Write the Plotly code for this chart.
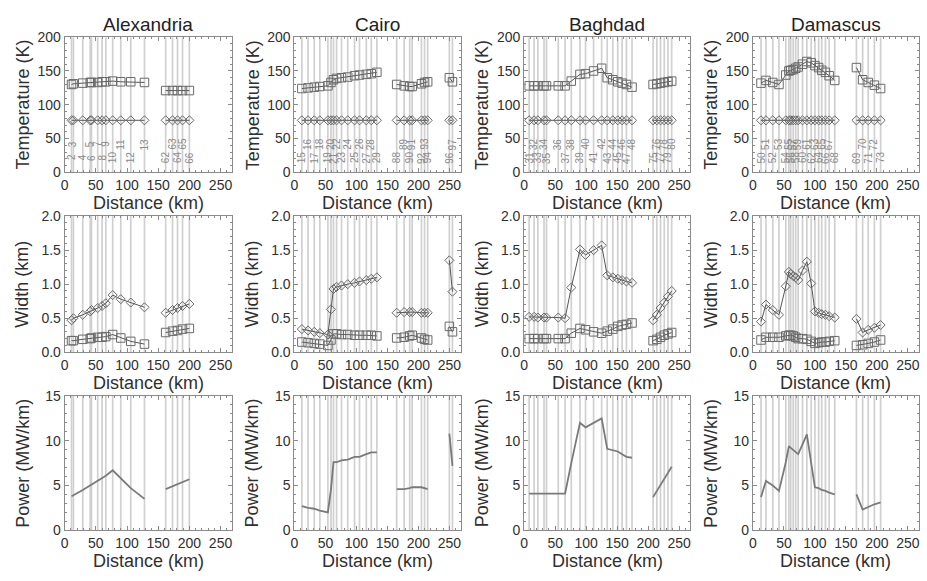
import plotly.graph_objects as go

cities = ["Alexandria", "Cairo", "Baghdad", "Damascus"]

# ---------------- data (None = gap between segments) ----------------
alex_x = [11, 14, 29, 41, 43, 53, 60, 66, 77, 90, 106, 128, None, 162, 173, 181, 189, 200]
alex_lab = [2, 3, 4, 5, 6, 7, 8, 9, 10, 11, 12, 13, None, 62, 63, 64, 65, 66]
alex_temp_sq = [130, 131, 132, 133, 133, 133, 134, 134, 135, 134, 134, 133, None, 121, 121, 121, 121, 121]
alex_temp_di = [77, 77, 77, 77, 77, 77, 77, 77, 77, 77, 77, 77, None, 77, 77, 77, 77, 77]
alex_w_di = [0.47, 0.50, 0.55, 0.60, 0.62, 0.65, 0.68, 0.72, 0.84, 0.78, 0.73, 0.66, None, 0.58, 0.62, 0.65, 0.68, 0.71]
alex_w_sq = [0.17, 0.17, 0.19, 0.20, 0.21, 0.22, 0.22, 0.23, 0.26, 0.21, 0.16, 0.12, None, 0.29, 0.31, 0.32, 0.34, 0.35]
alex_pow = [3.8, 3.9, 4.5, 5.0, 5.1, 5.5, 5.8, 6.1, 6.7, 5.8, 4.7, 3.5, None, 4.6, 4.9, 5.1, 5.4, 5.7]

cairo_x = [12, 22, 32, 41, 54, 59, 63, 68, 76, 86, 97, 105, 116, 124, 133, None,
           165, 177, 186, 190, 205, 210, 215, None, 250, 255]
cairo_lab = [15, 16, 17, 18, 19, 20, 21, 22, 23, 24, 25, 26, 27, 28, 29, None,
             88, 89, 90, 91, 92, 93, 94, None, 96, 97]
cairo_temp_sq = [124, 125, 126, 127, 128, 133, 137, 139, 140, 141, 143, 144, 145, 146, 148, None,
                 130, 128, 127, 127, 131, 133, 134, None, 140, 134]
cairo_temp_di = [77] * 15 + [None] + [77] * 7 + [None] + [77] * 2
cairo_w_di = [0.34, 0.32, 0.30, 0.28, 0.26, 0.63, 0.93, 0.96, 0.98, 1.00, 1.02, 1.04, 1.06, 1.08, 1.10, None,
              0.58, 0.59, 0.59, 0.59, 0.58, 0.58, 0.58, None, 1.35, 0.89]
cairo_w_sq = [0.15, 0.14, 0.13, 0.12, 0.10, 0.18, 0.27, 0.27, 0.26, 0.26, 0.25, 0.25, 0.25, 0.25, 0.24, None,
              0.21, 0.22, 0.24, 0.25, 0.21, 0.19, 0.18, None, 0.38, 0.30]
cairo_pow = [2.7, 2.5, 2.4, 2.2, 2.0, 4.6, 7.6, 7.6, 7.8, 7.9, 8.2, 8.2, 8.5, 8.7, 8.7, None,
             4.6, 4.6, 4.7, 4.8, 4.8, 4.7, 4.6, None, 10.8, 7.2]

bagh_x = [8, 16, 22, 32, 36, 55, 66, 76, 90, 99, 112, 125, 134, 143, 151, 158, 165, 174, None,
          208, 214, 220, 226, 232, 238]
bagh_lab = [31, 32, 33, 34, 35, 36, 37, 38, 39, 40, 41, 42, 43, 44, 45, 46, 47, 48, None,
            75, 76, 77, 78, 79, 80]
bagh_temp_sq = [128, 128, 128, 128, 128, 128, 128, 135, 145, 146, 150, 154, 140, 137, 134, 132, 130, 126, None,
                130, 131, 132, 133, 134, 135]
bagh_temp_di = [77] * 18 + [None] + [77] * 6
bagh_w_di = [0.52, 0.52, 0.51, 0.51, 0.51, 0.51, 0.50, 0.95, 1.51, 1.43, 1.50, 1.57, 1.13, 1.10, 1.08, 1.06, 1.04, 1.02, None,
             0.47, 0.55, 0.65, 0.73, 0.82, 0.90]
bagh_w_sq = [0.20, 0.20, 0.20, 0.20, 0.20, 0.20, 0.20, 0.28, 0.35, 0.33, 0.30, 0.28, 0.31, 0.34, 0.38, 0.40, 0.41, 0.43, None,
             0.17, 0.19, 0.22, 0.25, 0.27, 0.29]
bagh_pow = [4.1, 4.1, 4.1, 4.1, 4.1, 4.1, 4.1, 7.5, 12.0, 11.5, 12.0, 12.5, 9.1, 8.9, 8.8, 8.5, 8.2, 8.1, None,
            3.7, 4.4, 5.1, 5.8, 6.4, 7.1]

dam_x = [13, 21, 32, 42, 53, 58, 61, 65, 69, 73, 80, 87, 94, 100, 106, 111, 117, 123, 132, None,
         167, 177, 186, 196, 206]
dam_lab = [50, 51, 52, 53, 54, 55, 56, 57, 58, 59, 60, 61, 62, 63, 64, 65, 66, 67, 68, None,
           69, 70, 71, 72, 73]
dam_temp_sq = [132, 136, 133, 130, 144, 150, 151, 152, 154, 156, 160, 164, 162, 158, 155, 151, 148, 143, 136, None,
               155, 137, 133, 129, 124]
dam_temp_di = [77] * 19 + [None] + [77] * 5
dam_w_di = [0.45, 0.70, 0.62, 0.55, 0.97, 1.18, 1.15, 1.12, 1.10, 1.06, 1.20, 1.33, 1.01, 0.60, 0.58, 0.56, 0.55, 0.53, 0.51, None,
            0.49, 0.29, 0.33, 0.36, 0.40]
dam_w_sq = [0.18, 0.22, 0.22, 0.22, 0.24, 0.25, 0.25, 0.24, 0.22, 0.20, 0.20, 0.19, 0.16, 0.13, 0.14, 0.15, 0.15, 0.16, 0.17, None,
            0.10, 0.11, 0.13, 0.15, 0.18]
dam_pow = [3.7, 5.5, 5.0, 4.4, 7.6, 9.4, 9.2, 9.0, 8.7, 8.5, 9.6, 10.7, 7.5, 4.8, 4.7, 4.5, 4.4, 4.2, 4.0, None,
           4.0, 2.3, 2.6, 2.9, 3.1]

xs = [alex_x, cairo_x, bagh_x, dam_x]
labs = [alex_lab, cairo_lab, bagh_lab, dam_lab]
temp_sq = [alex_temp_sq, cairo_temp_sq, bagh_temp_sq, dam_temp_sq]
temp_di = [alex_temp_di, cairo_temp_di, bagh_temp_di, dam_temp_di]
w_di = [alex_w_di, cairo_w_di, bagh_w_di, dam_w_di]
w_sq = [alex_w_sq, cairo_w_sq, bagh_w_sq, dam_w_sq]
pows = [alex_pow, cairo_pow, bagh_pow, dam_pow]

row_titles = ["Temperature (K)", "Width (km)", "Power (MW/km)"]
row_ranges = [[0, 200], [0, 2], [0, 15]]
row_dtick = [50, 0.5, 5]
row_minor = [10, 0.1, 1]
row_fmt = ["d", ".1f", "d"]
x_label_title = "Distance (km)"
label_levels = [22, 42]

# ---------------- layout geometry ----------------
W, H = 927, 581
col_px = [(61, 229), (292, 459), (523, 690), (753, 920)]
row_px = [(30, 169), (214, 354), (399, 537)]

AX = "#8a8a8a"
TXT = "#303030"
VL = "#d0d0d0"
MK = "#6a6a6a"

fig = go.Figure()
layout = dict(width=W, height=H, margin=dict(l=0, r=0, t=0, b=0),
              paper_bgcolor="white", plot_bgcolor="white", showlegend=False,
              font=dict(family="Liberation Sans, Arial, sans-serif", color=TXT))
annotations = []

for r in range(3):
    for c in range(4):
        n = r * 4 + c + 1
        xa = "x" if n == 1 else f"x{n}"
        ya = "y" if n == 1 else f"y{n}"
        x0, x1 = col_px[c]
        y0, y1 = row_px[r]
        layout["xaxis" if n == 1 else f"xaxis{n}"] = dict(
            domain=[x0 / W, x1 / W], anchor=ya, range=[0, 268],
            tickvals=[0, 50, 100, 150, 200, 250], showgrid=False, zeroline=False,
            showline=True, linecolor=AX, linewidth=1, mirror="allticks",
            ticks="inside", ticklen=4, tickcolor=AX,
            minor=dict(ticks="inside", ticklen=2, dtick=10, tickcolor=AX),
            tickfont=dict(size=14, color=TXT))
        layout["yaxis" if n == 1 else f"yaxis{n}"] = dict(
            domain=[1 - y1 / H, 1 - y0 / H], anchor=xa, range=row_ranges[r],
            dtick=row_dtick[r], tick0=0, tickformat=row_fmt[r], showgrid=False, zeroline=False,
            showline=True, linecolor=AX, linewidth=1, mirror="allticks",
            ticks="inside", ticklen=4, tickcolor=AX,
            minor=dict(ticks="inside", ticklen=2, dtick=row_minor[r], tickcolor=AX),
            tickfont=dict(size=14, color=TXT))

        xd = xa + " domain"
        yd = ya + " domain"
        annotations.append(dict(text=row_titles[r], xref=xd, yref=yd, x=0, y=0.5,
                                xanchor="center", yanchor="middle", xshift=-42, textangle=-90,
                                showarrow=False, font=dict(size=18, color=TXT)))
        annotations.append(dict(text=x_label_title, xref=xd, yref=yd, x=0.5, y=0,
                                xanchor="center", yanchor="middle", yshift=-31,
                                showarrow=False, font=dict(size=18, color=TXT)))
        if r == 0:
            annotations.append(dict(text=cities[c], xref=xd, yref=yd, x=0.5, y=1,
                                    xanchor="center", yanchor="middle", yshift=13,
                                    showarrow=False, font=dict(size=19, color="#222")))

        top = row_ranges[r][1]
        vx, vy = [], []
        for xv in xs[c]:
            if xv is None:
                continue
            vx += [xv, xv, None]
            vy += [0, top, None]
        fig.add_trace(go.Scatter(x=vx, y=vy, mode="lines", line=dict(color=VL, width=1.7),
                                 xaxis=xa, yaxis=ya, hoverinfo="skip"))

        if r == 0:
            fig.add_trace(go.Scatter(x=xs[c], y=temp_di[c], mode="lines+markers",
                                     line=dict(color="#555", width=1),
                                     marker=dict(symbol="diamond-open", size=7, color=MK, line=dict(width=1)),
                                     xaxis=xa, yaxis=ya))
            fig.add_trace(go.Scatter(x=xs[c], y=temp_sq[c], mode="lines+markers",
                                     line=dict(color="#555", width=1),
                                     marker=dict(symbol="square-open", size=8.5, color=MK, line=dict(width=1)),
                                     xaxis=xa, yaxis=ya))
            k = 0
            for xv, lb in zip(xs[c], labs[c]):
                if xv is None:
                    k = 0
                    continue
                annotations.append(dict(text=str(lb), x=xv, y=label_levels[k % 2],
                                        xref=xa, yref=ya, textangle=-90, showarrow=False,
                                        font=dict(size=10, color="#8a8a8a")))
                k += 1
        elif r == 1:
            fig.add_trace(go.Scatter(x=xs[c], y=w_sq[c], mode="lines+markers",
                                     line=dict(color="#555", width=1),
                                     marker=dict(symbol="square-open", size=8.5, color=MK, line=dict(width=1)),
                                     xaxis=xa, yaxis=ya))
            fig.add_trace(go.Scatter(x=xs[c], y=w_di[c], mode="lines+markers",
                                     line=dict(color="#555", width=1),
                                     marker=dict(symbol="diamond-open", size=7, color=MK, line=dict(width=1)),
                                     xaxis=xa, yaxis=ya))
        else:
            fig.add_trace(go.Scatter(x=xs[c], y=pows[c], mode="lines",
                                     line=dict(color="#7a7a7a", width=1.8),
                                     xaxis=xa, yaxis=ya))

layout["annotations"] = annotations
fig.update_layout(**layout)
fig.write_html("out.html")
